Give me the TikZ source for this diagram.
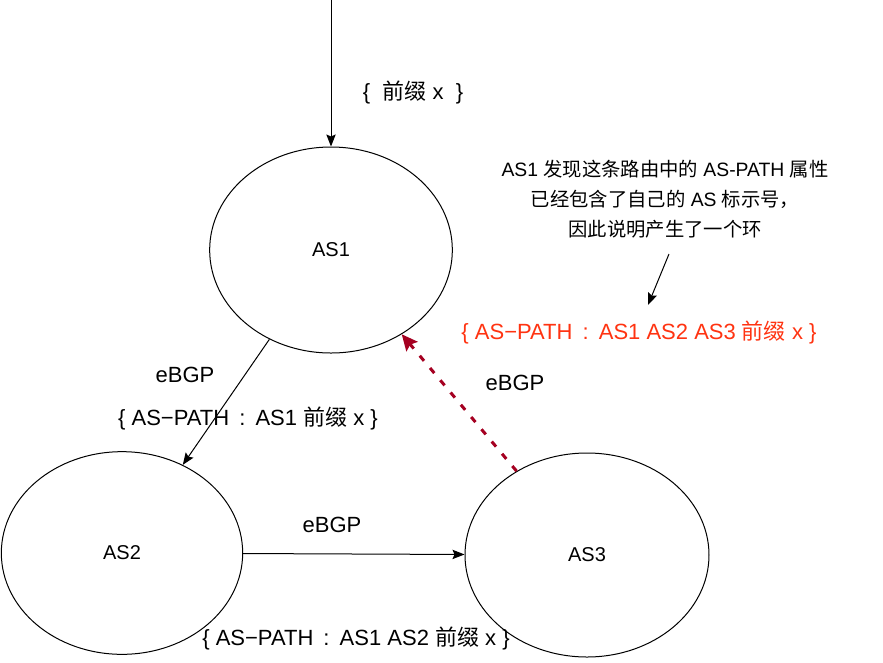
\documentclass[tikz,border=0pt]{standalone}
\usepackage{fontspec}
\setmainfont{Liberation Sans}
\newfontfamily\cjk{Noto Sans CJK SC}
\usepackage{tikz}
\usetikzlibrary{arrows.meta, positioning, shapes.geometric}
\definecolor{loopRed}{HTML}{A50021}
\definecolor{warnRed}{HTML}{FF3311}
\newcommand{\pcolon}{\hspace{3pt} : \hspace{3pt}}

\begin{document}
\begin{tikzpicture}[x=0.75pt, y=-0.75pt,
      >={Stealth[length=9pt, width=7pt, inset=1.5pt]}, line width=0.75pt,
      asnode/.style={ellipse, draw, inner sep=0pt, font=\fontsize{15}{18}\selectfont},
      lbl/.style={inner sep=1pt, align=center, font=\fontsize{16.5}{20}\selectfont},
      notebox/.style={inner sep=1pt, align=center, font=\fontsize{14.5}{22.5}\selectfont}]
    \useasboundingbox (0,0) rectangle (883,662);
    \node[asnode, minimum width=182pt, minimum height=154.5pt] (as1) at (331,250) {AS1};
    \node[asnode, minimum width=181pt, minimum height=152pt] (as2) at (122,553) {AS2};
    \node[asnode, minimum width=183pt, minimum height=153pt] (as3) at (587,555) {AS3};
    \coordinate (src) at (331,0);
    \draw[->] (src) -- (as1.north);
    \node[lbl] (pfx) at (413,92) {\{\ \ {\cjk 前缀} x\ \ \}};
    % AS1 -> AS2 -> AS3 -> AS1
    \draw[->] (as1) -- (as2);
    \node[lbl] (e12) at (185,375) {eBGP};
    \node[lbl] (p12) at (248,418) {\{ AS−PATH\pcolon AS1 {\cjk 前缀} x \}};
    \draw[->] (as2) -- (as3);
    \node[lbl] (e23) at (332,525) {eBGP};
    \node[lbl] (p23) at (356,638) {\{ AS−PATH\pcolon AS1 AS2 {\cjk 前缀} x \}};
    \draw[->, loopRed, line width=2.25pt, dash pattern=on 5pt off 7pt,
          >={Stealth[length=12pt, width=11pt, inset=2pt]}] (as3) -- (as1);
    \node[lbl] (e31) at (515,383) {eBGP};
    % loop detected
    \node[notebox] (note) at (665,199) {AS1 {\cjk 发现这条路由中的} AS-PATH {\cjk 属性}\\
      {\cjk 已经包含了自己的} AS {\cjk 标示号，}\\
      {\cjk 因此说明产生了一个环}};
    \node[lbl, text=warnRed] (p31) at (639,332) {\{ AS−PATH\pcolon AS1 AS2 AS3 {\cjk 前缀} x \}};
    \coordinate (n1) at (669,254);
    \coordinate (n2) at (648,305);
    \draw[->] (n1) -- (n2);
  \end{tikzpicture}
\end{document}
